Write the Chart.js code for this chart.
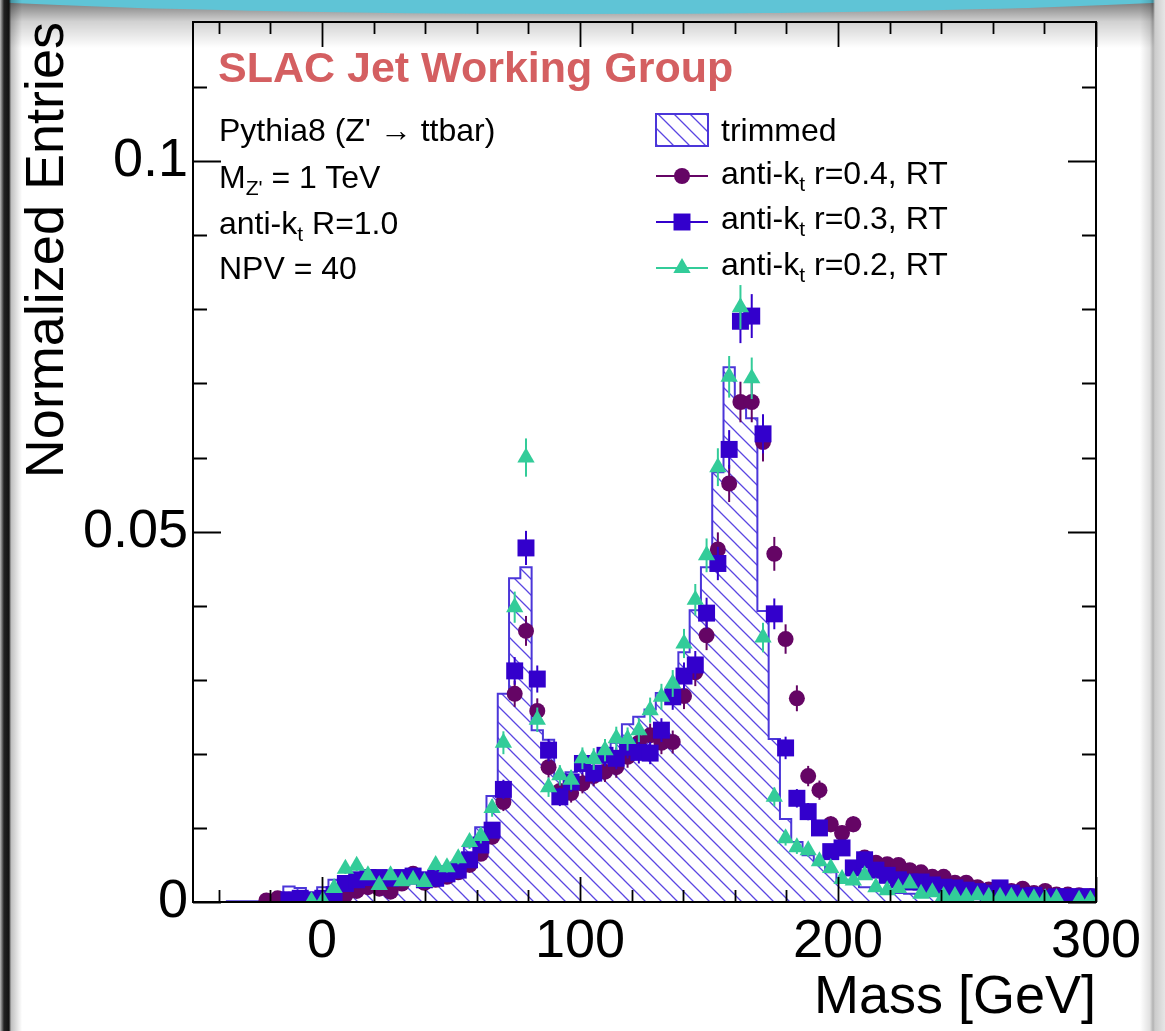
<!DOCTYPE html>
<html><head><meta charset="utf-8">
<script src="https://cdn.jsdelivr.net/npm/chart.js@4.4.1/dist/chart.umd.min.js"></script>
<style>
html,body{margin:0;padding:0;background:#fff;}
#wrap{position:relative;width:1165px;height:1031px;overflow:hidden;background:#fff;}
#c{position:absolute;left:0;top:0;z-index:2;}
.deco{position:absolute;z-index:1;}
.t{position:absolute;z-index:3;font-family:"Liberation Sans",Arial,Helvetica,sans-serif;color:#000;white-space:nowrap;line-height:1;font-size:32px;}
.sub{font-size:0.66em;position:relative;top:0.33em;}
.slac{font-weight:bold;color:#d45f61;font-size:43px;}
</style>
</head><body>
<div id="wrap">
  <div class="deco" style="left:0;top:0;width:1165px;height:48px;background:linear-gradient(to bottom,rgba(0,0,0,0.55),rgba(0,0,0,0.18) 45%,rgba(0,0,0,0));"></div>
  <div class="deco" style="left:-140px;top:-44px;width:1445px;height:58px;border-radius:50%;background:#5fc4d6;"></div>
  <div class="deco" style="left:0;top:0;width:22px;height:1031px;background:linear-gradient(to right,#bbb 0,#222 4px,#111 9px,rgba(0,0,0,0.25) 11px,rgba(0,0,0,0) 22px);"></div>
  <div class="deco" style="left:1140px;top:0;width:25px;height:1031px;background:linear-gradient(to right,rgba(0,0,0,0),rgba(0,0,0,0.12) 10px,rgba(0,0,0,0.3) 13px,#ccc 15px,#e6e6e6 25px);"></div>
  <canvas id="c" width="1165" height="1031"></canvas>

  <div class="t slac" style="left:218px;top:46px;">SLAC Jet Working Group</div>
  <div class="t" style="left:219px;top:114px;">Pythia8 (Z' → ttbar)</div>
  <div class="t" style="left:219px;top:161px;">M<span class="sub">Z'</span> = 1 TeV</div>
  <div class="t" style="left:219px;top:207px;">anti-k<span class="sub">t</span> R=1.0</div>
  <div class="t" style="left:219px;top:252px;">NPV = 40</div>

  <div class="t" style="left:721px;top:114px;">trimmed</div>
  <div class="t" style="left:721px;top:157px;">anti-k<span class="sub">t</span> r=0.4, RT</div>
  <div class="t" style="left:721px;top:202px;">anti-k<span class="sub">t</span> r=0.3, RT</div>
  <div class="t" style="left:721px;top:248px;">anti-k<span class="sub">t</span> r=0.2, RT</div>
</div>
<script>
// ---------- data ----------
const massMin = -50, massMax = 300, nBins = 80;   // histogram binning [GeV]
const yTickValues = [0, 0.05, 0.1];
const xTickValues = [0, 100, 200, 300];

const trimmed = [0,0,0,0.0001,0.0001,0.0001,0.0002,0.0003,0.0021,0.0019,
  0.0010,0.0020,0.0030,0.0035,0.0038,0.0035,0.0033,0.0035,0.0035,0.0036,
  0.0038,0.0042,0.0045,0.0052,0.0075,0.0101,0.0143,0.0281,0.0437,0.0452,
  0.0232,0.0219,0.0170,0.0175,0.0185,0.0190,0.0200,0.0215,0.0240,0.0250,
  0.0260,0.0282,0.0290,0.0337,0.0394,0.0452,0.0580,0.0722,0.0675,0.0653,
  0.0393,0.0220,0.0112,0.0081,0.0063,0.0050,0.0040,0.0030,0.0025,0.0020,
  0.0016,0.0014,0.0012,0.0011,0.0010,0.0009,0.0008,0.0008,0.0007,0.0006,
  0.0006,0.0005,0.0005,0.0004,0.0004,0.0004,0.0003,0.0003,0.0003,0.0002];

const akt04 = [null,null,null,null,null,null,0.0002,0.0005,0.0003,0.0003,
  0.0003,0.0004,0.0006,0.0009,0.0015,0.0020,0.0018,0.0014,0.0025,0.0038,
  0.0026,0.0030,0.0034,0.0040,0.0050,0.0065,0.0088,0.0135,0.0281,0.0366,
  0.0258,0.0182,0.0150,0.0147,0.0160,0.0170,0.0176,0.0182,0.0196,0.0215,
  0.0225,0.0215,0.0216,0.0278,0.0310,0.0360,0.0476,0.0565,0.0675,0.0675,
  0.0621,0.0470,0.0355,0.0275,0.0170,0.0151,0.0105,0.0093,0.0105,0.0060,
  0.0053,0.0051,0.0050,0.0043,0.0040,0.0034,0.0034,0.0026,0.0026,0.0020,
  0.0017,0.0016,0.0015,0.0018,0.0012,0.0015,0.0010,0.0010,0.0009,0.0008];

const akt03 = [null,null,null,null,null,null,null,null,0.0003,0.0005,
  0.0003,0.0005,0.0010,0.0025,0.0030,0.0033,0.0033,0.0032,0.0033,0.0035,
  0.0030,0.0032,0.0038,0.0043,0.0057,0.0077,0.0097,0.0152,0.0312,0.0478,
  0.0301,0.0205,0.0142,0.0162,0.0187,0.0174,0.0198,0.0194,0.0209,0.0202,
  0.0201,0.0232,0.0277,0.0305,0.0320,0.0390,0.0457,0.0611,0.0784,0.0791,
  0.0632,0.0389,0.0208,0.0140,0.0122,0.0100,0.0068,0.0073,0.0046,0.0057,
  0.0043,0.0036,0.0030,0.0027,0.0027,0.0023,0.0020,0.0019,0.0016,0.0014,
  0.0012,0.0019,0.0012,0.0008,0.0009,0.0005,0.0007,0.0007,0.0007,0.0007];

const akt02 = [null,null,null,null,null,null,null,null,null,null,
  0.0001,0.0002,0.0019,0.0045,0.0049,0.0036,0.0023,0.0036,0.0028,0.0030,
  0.0027,0.0050,0.0047,0.0059,0.0081,0.0089,0.0127,0.0215,0.0398,0.0600,
  0.0246,0.0155,0.0171,0.0165,0.0194,0.0193,0.0205,0.0221,0.0220,0.0232,
  0.0259,0.0277,0.0295,0.0349,0.0408,0.0468,0.0587,0.0709,0.0803,0.0707,
  0.0357,0.0142,0.0086,0.0074,0.0070,0.0055,0.0046,0.0031,0.0029,0.0036,
  0.0020,0.0016,0.0019,0.0025,0.0011,0.0013,0.0008,0.0008,0.0007,0.0009,
  0.0007,0.0007,0.0007,0.0005,0.0005,0.0005,0.0005,null,0.0003,0.0003];

// effective statistics used for the statistical error bars
const effEntries = 9000;

// ---------- build ----------
const binW = (massMax - massMin) / nBins;
const edges = [];
for (let k = 0; k <= nBins; k++) edges.push(massMin + k * binW);
const centers = edges.slice(0, nBins).map(e => e + binW / 2);

// point k sits at the left edge of bin k; 'before' stepping holds its value to the next edge
const histPts = trimmed.map((v, k) => ({x: edges[k], y: v}));
histPts.push({x: edges[nBins], y: trimmed[nBins - 1]});
const pts = arr => arr.map((v, k) => ({x: centers[k], y: v}));

const FONT = '"Liberation Sans", Arial, Helvetica, sans-serif';
const C04 = '#650565', C03 = '#3300cc', C02 = '#33cc99';
const HCOL = '#4b36d9';

const canvas = document.getElementById('c');
const ctx = canvas.getContext('2d');
function hatchPattern() {
  const s = 16, c = document.createElement('canvas');
  c.width = s; c.height = s;
  const g = c.getContext('2d');
  g.strokeStyle = '#5a46e2'; g.lineWidth = 1.3;
  g.beginPath();
  g.moveTo(-3, -3); g.lineTo(s + 3, s + 3);
  g.moveTo(-3, s - 3); g.lineTo(3, s + 3);
  g.moveTo(s - 3, -3); g.lineTo(s + 3, 3);
  g.stroke();
  return ctx.createPattern(c, 'repeat');
}
const hatch = hatchPattern();

const errorBars = {
  id: 'errorBars',
  beforeDatasetDraw(chart, args) {
    const ds = chart.data.datasets[args.index];
    if (!ds.errColor) return;
    const c = chart.ctx, ys = chart.scales.y, area = chart.chartArea;
    c.save();
    c.beginPath(); c.rect(area.left, area.top, area.right - area.left, area.bottom - area.top); c.clip();
    c.strokeStyle = ds.errColor; c.lineWidth = 2;
    args.meta.data.forEach((el, i) => {
      const v = ds.data[i].y;
      if (v === null || v === undefined) return;
      const e = Math.sqrt(v / effEntries);
      c.beginPath();
      c.moveTo(el.x, ys.getPixelForValue(v + e));
      c.lineTo(el.x, ys.getPixelForValue(Math.max(0, v - e)));
      c.stroke();
    });
    c.restore();
  }
};

const frame = {
  id: 'frame',
  afterDraw(chart) {
    const c = chart.ctx, a = chart.chartArea, xs = chart.scales.x, ys = chart.scales.y;
    c.save();
    c.strokeStyle = '#000'; c.lineWidth = 2;
    c.strokeRect(a.left, a.top, a.right - a.left, a.bottom - a.top);
    c.lineWidth = 1.8;
    for (let v = -40; v <= 300; v += 20) {
      const x = Math.round(xs.getPixelForValue(v)) + 0.5;
      const L = (v % 100 === 0) ? 25 : 12;
      c.beginPath();
      c.moveTo(x, a.bottom); c.lineTo(x, a.bottom - L);
      c.moveTo(x, a.top); c.lineTo(x, a.top + L);
      c.stroke();
    }
    for (let i = 0; i <= 11; i++) {
      const v = i * 0.01;
      const y = Math.round(ys.getPixelForValue(v)) + 0.5;
      const L = (i % 5 === 0) ? 28 : 14;
      c.beginPath();
      c.moveTo(a.left, y); c.lineTo(a.left + L, y);
      c.moveTo(a.right, y); c.lineTo(a.right - L, y);
      c.stroke();
    }
    // legend symbols
    const bx = 656, bw = 52;
    c.fillStyle = hatch; c.fillRect(bx, 114, bw, 32);
    c.strokeStyle = HCOL; c.lineWidth = 2; c.strokeRect(bx, 114, bw, 32);
    const rows = [[176, C04, 'circle', 8], [222, C03, 'rect', 12], [268, C02, 'triangle', 10]];
    rows.forEach(([y, col, st, r]) => {
      c.strokeStyle = col; c.lineWidth = 2;
      c.beginPath(); c.moveTo(bx, y); c.lineTo(bx + bw, y); c.stroke();
      c.fillStyle = col; c.strokeStyle = col; c.lineWidth = 0;
      Chart.helpers.drawPoint(c, {pointStyle: st, radius: r, rotation: 0, borderWidth: 0}, bx + bw / 2, y);
    });
    c.restore();
  }
};

new Chart(ctx, {
  type: 'scatter',
  data: {
    datasets: [
      {label: 'anti-kt r=0.2, RT', data: pts(akt02), pointStyle: 'triangle', pointRadius: 10,
       backgroundColor: C02, borderColor: C02, borderWidth: 0, errColor: C02, order: 0},
      {label: 'anti-kt r=0.3, RT', data: pts(akt03), pointStyle: 'rect', pointRadius: 12,
       backgroundColor: C03, borderColor: C03, borderWidth: 0, errColor: C03, order: 1},
      {label: 'anti-kt r=0.4, RT', data: pts(akt04), pointStyle: 'circle', pointRadius: 8,
       backgroundColor: C04, borderColor: C04, borderWidth: 0, errColor: C04, order: 2},
      {type: 'line', label: 'trimmed', data: histPts, stepped: 'before', fill: 'origin',
       backgroundColor: hatch, borderColor: HCOL, borderWidth: 2, pointRadius: 0, order: 3}
    ]
  },
  options: {
    responsive: false, animation: false, devicePixelRatio: 1,
    layout: {padding: {left: 0, right: 69, top: 22, bottom: 0}},
    plugins: {legend: {display: false}, tooltip: {enabled: false}},
    scales: {
      x: {
        type: 'linear', min: massMin, max: massMax,
        grid: {display: false, drawTicks: false}, border: {display: false},
        afterBuildTicks: s => { s.ticks = xTickValues.map(v => ({value: v})); },
        ticks: {font: {size: 54, family: FONT}, color: '#000', padding: 8, maxRotation: 0, autoSkip: false,
                callback: v => String(v)},
        title: {display: true, text: 'Mass [GeV]', align: 'end', color: '#000',
                font: {size: 54, family: FONT}, padding: {top: 0, bottom: 0}},
        afterFit: s => { s.height = 129; s.paddingLeft = 0; s.paddingRight = 0; }
      },
      y: {
        type: 'linear', min: 0, max: 0.1188,
        grid: {display: false, drawTicks: false}, border: {display: false},
        afterBuildTicks: s => { s.ticks = yTickValues.map(v => ({value: v})); },
        ticks: {font: {size: 54, family: FONT}, color: '#000', padding: 5, autoSkip: false,
                callback: v => String(v)},
        title: {display: true, text: 'Normalized Entries', align: 'end', color: '#000',
                font: {size: 54, family: FONT}, padding: {top: 16, bottom: 0}},
        afterFit: s => { s.width = 193; s.paddingTop = 0; s.paddingBottom = 0; }
      }
    }
  },
  plugins: [errorBars, frame]
});
</script>
</body></html>
